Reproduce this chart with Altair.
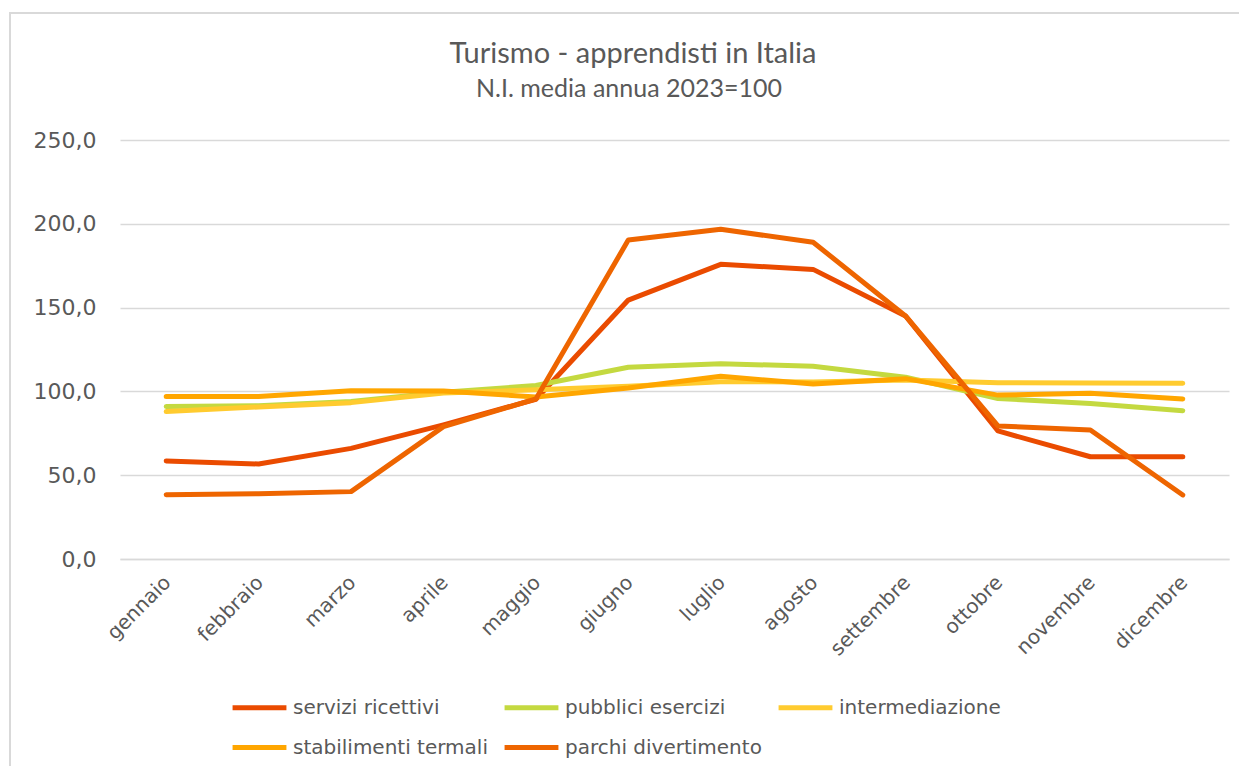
import altair as alt
import pandas as pd

months = ["gennaio", "febbraio", "marzo", "aprile", "maggio", "giugno",
          "luglio", "agosto", "settembre", "ottobre", "novembre", "dicembre"]
series_names = ["servizi ricettivi", "pubblici esercizi", "intermediazione",
                "stabilimenti termali", "parchi divertimento"]
servizi = [58.5, 56.7, 66.0, 80.0, 95.3, 154.5, 175.8, 172.8, 145.0, 76.4, 61.0, 61.0]
pubblici = [91.0, 91.5, 94.0, 99.5, 103.5, 114.4, 116.5, 115.0, 108.5, 95.8, 92.8, 88.5]
intermediazione = [88.0, 90.7, 93.3, 99.0, 101.0, 103.0, 105.8, 105.6, 106.8, 105.2, 105.0, 104.8]
stabilimenti = [97.0, 97.0, 100.4, 100.2, 96.7, 102.0, 109.0, 104.4, 107.6, 97.8, 98.9, 95.5]
parchi = [38.4, 39.0, 40.2, 79.0, 95.5, 190.3, 196.7, 189.0, 145.0, 79.4, 77.0, 38.2]
colors = ["#EA4B00", "#C4D940", "#FFCB2F", "#FFA600", "#EE6500"]
y_ticks = [0, 50, 100, 150, 200, 250]
title_text = "Turismo - apprendisti in Italia"
subtitle_text = "N.I. media annua 2023=100"

rows = []
for name, vals in zip(series_names, [servizi, pubblici, intermediazione, stabilimenti, parchi]):
    for i, (m, v) in enumerate(zip(months, vals)):
        rows.append({"mese": m, "valore": v, "serie": name, "idx": i})
df = pd.DataFrame(rows)

W, H = 1109, 419
PL, PT = 112, 132
TOTAL_W, TOTAL_H = 1239, 758
one = pd.DataFrame({"a": [0]})

border = alt.Chart(one).mark_rect(
    filled=False, stroke="#d9d9d9", strokeWidth=2
).encode(
    x=alt.value(-110), x2=alt.value(TOTAL_W - PL + 20),
    y=alt.value(-127), y2=alt.value(TOTAL_H - PT + 20)
)

title = alt.Chart(one).mark_text(
    text=title_text, font="Lato", fontSize=29, color="#595959",
    align="center", baseline="alphabetic"
).encode(x=alt.value(633 - 120), y=alt.value(63 - 140))

subtitle = alt.Chart(one).mark_text(
    text=subtitle_text, font="Lato", fontSize=25, color="#595959",
    align="center", baseline="alphabetic"
).encode(x=alt.value(629 - 120), y=alt.value(97 - 140))

lines = alt.Chart(df).mark_line(strokeWidth=5, strokeCap="round", strokeJoin="round").encode(
    x=alt.X("mese:N", sort=months, scale=alt.Scale(type="point", padding=0.5),
            axis=alt.Axis(title=None, labelAngle=-45, labelAlign="right", labelBaseline="top",
                          labelFontSize=20, labelColor="#595959", labelFont="DejaVu Sans",
                          labelPadding=13, labelOffset=-6, ticks=False, domain=True,
                          domainColor="#d9d9d9", domainWidth=1.5, grid=False)),
    y=alt.Y("valore:Q", scale=alt.Scale(domain=[0, 250], nice=False),
            axis=alt.Axis(title=None, values=y_ticks,
                          labelExpr="replace(format(datum.value, '.1f'), '.', ',')",
                          labelFontSize=22, labelColor="#595959", labelFont="DejaVu Sans",
                          labelPadding=24, ticks=False, domain=False,
                          grid=True, gridColor="#d9d9d9", gridWidth=1.5)),
    color=alt.Color("serie:N", sort=series_names,
                    scale=alt.Scale(domain=series_names, range=colors),
                    legend=alt.Legend(title=None, orient="none", legendX=110, legendY=538,
                                      direction="horizontal",
                                      columns=3, symbolType="stroke", symbolStrokeWidth=5,
                                      symbolSize=2900, labelFontSize=20, labelColor="#595959",
                                      labelFont="DejaVu Sans", labelOffset=4,
                                      columnPadding=6, rowPadding=-14, labelLimit=400)),
    order=alt.Order("idx:Q"),
)

chart = alt.layer(border, title, subtitle, lines).properties(
    width=W, height=H,
    autosize=alt.AutoSizeParams(type="none"),
    padding={"left": PL, "top": PT, "right": TOTAL_W - PL - W - 8, "bottom": TOTAL_H - PT - H},
).configure_view(stroke=None)

chart.save("out.html", embed_options={"renderer": "svg", "actions": False})
